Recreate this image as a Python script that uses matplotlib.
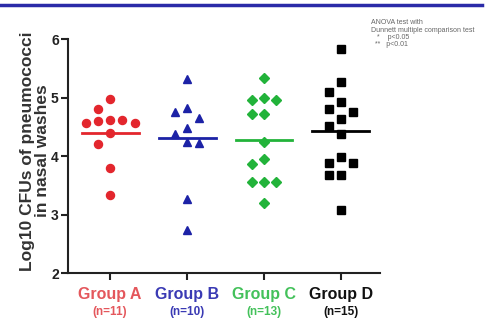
import matplotlib
matplotlib.use("Agg")
import matplotlib.pyplot as plt
from matplotlib.lines import Line2D
import numpy as np

plt.rcParams['font.family'] = ['Liberation Sans', 'DejaVu Sans']

# values (log10 CFU)
groups = ['Group A', 'Group B', 'Group C', 'Group D']
n_labels = ['(n=11)', '(n=10)', '(n=13)', '(n=15)']
group_a = [4.98, 4.81, 4.62, 4.62, 4.60, 4.57, 4.56, 4.39, 4.20, 3.79, 3.34]
group_b = [5.32, 4.83, 4.76, 4.65, 4.48, 4.38, 4.25, 4.22, 3.26, 2.74]
group_c = [5.33, 5.00, 4.96, 4.96, 4.72, 4.72, 4.25, 3.95, 3.87, 3.55, 3.55, 3.55, 3.20]
group_d = [5.83, 5.26, 5.09, 4.93, 4.80, 4.76, 4.63, 4.51, 4.38, 3.98, 3.89, 3.89, 3.68, 3.68, 3.08]
centre_lines = [4.40, 4.31, 4.28, 4.43]

markers = ['o', '^', 'D', 's']
marker_sizes = [5.8, 6.2, 5.0, 5.5]
point_colors = ['#e3262d', '#1c22a6', '#22b33a', '#000000']
label_colors = ['#e4575c', '#3a3ab4', '#43c15a', '#111111']


def swarm(values, step=0.16, ygap=0.2):
    """spread points sideways when they sit too close in y"""
    placed = []
    offsets = []
    for v in values:
        for k in [0, -1, 1, -2, 2, -3, 3]:
            ok = True
            for (pk, pv) in placed:
                if pk == k and abs(pv - v) < ygap:
                    ok = False
                    break
            if ok:
                break
        placed.append((k, v))
        offsets.append(k * step)
    return np.array(offsets)


fig = plt.figure(figsize=(4.88, 3.21), dpi=100)
ax = fig.add_axes([0.139, 0.149, 0.64, 0.729])

for i, vals in enumerate([group_a, group_b, group_c, group_d]):
    xs = i + swarm(vals)
    ax.plot(xs, vals, linestyle='none', marker=markers[i], ms=marker_sizes[i],
            color=point_colors[i], mec=point_colors[i], clip_on=False, zorder=3)
    ax.plot([i - 0.37, i + 0.37], [centre_lines[i]] * 2, color=point_colors[i],
            lw=2, zorder=4)
    ax.text(i, 1.63, groups[i], ha='center', va='center', fontsize=11.5,
            fontweight='bold', color=label_colors[i])
    ax.text(i, 1.34, n_labels[i], ha='center', va='center', fontsize=8.5,
            fontweight='bold', color=label_colors[i])

ax.set_xlim(-0.55, 3.51)
ax.set_ylim(2, 6)
ax.set_xticks(range(4))
ax.set_xticklabels([''] * 4)
ax.set_yticks([2, 3, 4, 5, 6])
ax.tick_params(axis='y', labelsize=10, width=1.5, length=5, pad=1.5, colors='#222222')
ax.tick_params(axis='x', width=1.5, length=5, colors='#222222')
for lab in ax.get_yticklabels():
    lab.set_fontweight('bold')
ax.spines['top'].set_visible(False)
ax.spines['right'].set_visible(False)
ax.spines['left'].set_linewidth(1.5)
ax.spines['bottom'].set_linewidth(1.5)
ax.spines['left'].set_color('#222222')
ax.spines['bottom'].set_color('#222222')

fig.text(0.071, 0.53, 'Log10 CFUs of pneumococci\nin nasal washes', rotation=90,
         ha='center', va='center', fontsize=12.5, fontweight='bold',
         color='#333333', linespacing=1.0)

# blue rule along the top
fig.add_artist(Line2D([0.0, 0.988], [0.985, 0.985], color='#2b2ba8', lw=2.5))

fig.text(0.761, 0.94, 'ANOVA test with\nDunnett multiple comparison test\n'
         '   *    p<0.05\n  **   p<0.01', ha='left', va='top', fontsize=5,
         color='#666666', linespacing=1.05)

fig.savefig('out.png', dpi=100)
